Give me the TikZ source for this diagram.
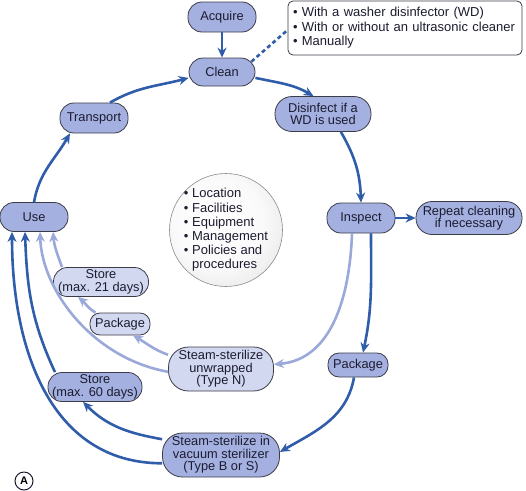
\documentclass[tikz,border=0pt]{standalone}
\usepackage{fontspec}
\setmainfont{Liberation Sans}
\usetikzlibrary{positioning}
\usetikzlibrary{arrows.meta}

\definecolor{stagefill}{RGB}{164,176,224}
\definecolor{litefill}{RGB}{210,216,240}
\definecolor{flowdark}{RGB}{47,93,170}
\definecolor{flowlite}{RGB}{154,168,218}
\definecolor{rimgray}{RGB}{60,60,72}
\definecolor{inkc}{RGB}{28,28,48}
\pgfdeclareradialshading{hubshade}{\pgfpoint{-6bp}{6bp}}{color(0bp)=(white); color(20bp)=(white!96!gray); color(36bp)=(white!78!gray); color(50bp)=(white!45!gray)}

\begin{document}
\begin{tikzpicture}[
    x = 1pt, y = -1pt,
    semithick,
    font = \fontsize{12.8}{12.6}\selectfont,
    ]

    \tikzstyle{stage}=[
    draw = rimgray,
    line width = 0.8pt,
    fill = stagefill,
    text = inkc,
    align = center,
    inner sep = 0pt,
    rounded corners = 14pt,
    minimum width = 68pt,
    minimum height = 30pt,
    ]
    \tikzstyle{litestage}=[stage, fill = litefill]
    \tikzstyle{flow}=[-{Stealth[length=10pt,width=9pt]}, color = flowdark, line width = 2.6pt]
    \tikzstyle{liteflow}=[flow, color = flowlite]

    \useasboundingbox (0,0) rectangle (526,490);

    \node[stage] (acquire) at (222,17) {Acquire};
    \node[stage, minimum width=66pt, minimum height=28pt] (clean) at (222,72) {Clean};
    \node[stage, minimum width=96pt, minimum height=35pt, rounded corners=17pt] (disinfect) at (323,114) {Disinfect if a\\WD is used};
    \node[stage] (transport) at (94,118) {Transport};
    \node[stage, minimum height=29pt] (use) at (34,217) {Use};
    \node[stage] (inspect) at (361,218) {Inspect};
    \node[stage, minimum width=106pt, minimum height=33pt, rounded corners=16pt] (redo) at (469,218) {Repeat cleaning\\if necessary};
    \node[litestage, minimum width=95pt, minimum height=29pt] (store21) at (101,282) {Store\\(max. 21 days)};
    \node[litestage, minimum width=60pt, minimum height=22pt, rounded corners=10pt] (wrapA) at (120,324) {Package};
    \node[litestage, minimum width=105pt, minimum height=44pt, rounded corners=20pt] (unwrapped) at (221,369) {Steam-sterilize\\unwrapped\\(Type N)};
    \node[stage, minimum width=60pt, minimum height=24pt, rounded corners=11pt] (wrapB) at (358,365) {Package};
    \node[stage, minimum width=94pt, minimum height=29pt] (store60) at (95,387) {Store\\(max. 60 days)};
    \node[stage, minimum width=117pt, minimum height=44pt, rounded corners=20pt] (vacuum) at (221,455) {Steam-sterilize in\\vacuum sterilizer\\(Type B or S)};

    \node[circle, draw = gray!90, shading = hubshade, inner sep = -4pt, minimum size = 113pt,
      text = inkc, align = left, font = \fontsize{13}{14.2}\selectfont] (hub) at (226,230)
      {\textbullet\ Location\\\textbullet\ Facilities\\\textbullet\ Equipment\\\textbullet\ Management\\\textbullet\ Policies and\\\phantom{\textbullet\ }procedures};

    \node[draw = rimgray, line width = 0.8pt, fill = white, rounded corners = 5pt, text = inkc,
      align = left, text width = 224pt, inner xsep = 5pt, minimum height = 54pt,
      font = \fontsize{13}{14.5}\selectfont] (note) at (405,28)
      {\textbullet\ With a washer disinfector (WD)\\\textbullet\ With or without an ultrasonic cleaner\\\textbullet\ Manually};

    \node[circle, draw = inkc, line width = 1pt, inner sep = 0pt, minimum size = 18pt,
      font = \bfseries\fontsize{11}{11}\selectfont] (panel) at (24,481) {A};

    % main loop
    \path[flow] (acquire) edge (clean);
    \path[flow] (clean.-10) edge[out=-12, in=150] (disinfect.118);
    \path[flow] (disinfect.-45) edge[out=-60, in=92] (inspect.north);
    \path[flow] (inspect) edge (redo);
    \path[flow] ([xshift=10pt]inspect.south) edge[out=-90, in=78] ([xshift=5pt]wrapB.north);
    \path[flow] ([xshift=-4pt]wrapB.south) edge[out=-100, in=30] (vacuum.3);
    \path[flow] (use.north) edge[out=80, in=-120] ([xshift=-24pt]transport.south);
    \path[flow] ([xshift=16pt]transport.north) edge[out=30, in=195] (clean.190);
    \draw[color = flowdark, line width = 2.6pt, dash pattern = on 4pt off 3pt]
      ([xshift=-4pt,yshift=-4pt]clean.north east) -- ([yshift=-2pt]note.west);

    % wrapped route
    \path[flow] (vacuum.165) edge[out=170, in=-45] ([xshift=-12pt]store60.south);
    \path[flow] ([xshift=-40pt]store60.north) edge[out=115, in=-88] ([xshift=-9pt]use.south);
    \path[flow] (vacuum.188) edge[out=180, in=-90, out distance=110pt, in distance=120pt] ([xshift=-22pt]use.south);

    % unwrapped route
    \path[liteflow] ([xshift=-9pt]inspect.south) edge[out=-92, in=5] (unwrapped.5);
    \path[liteflow] (unwrapped.165) edge[out=160, in=-30] ([xshift=13pt]wrapA.south);
    \path[liteflow] (wrapA.155) edge[out=150, in=-40] ([xshift=-23pt]store21.south);
    \path[liteflow] ([xshift=-39pt]store21.north) edge[out=110, in=-85] ([xshift=19pt]use.south);
    \path[liteflow] (unwrapped.183) edge[out=170, in=-88, out distance=75pt, in distance=60pt] ([xshift=6pt]use.south);
  \end{tikzpicture}
\end{document}
